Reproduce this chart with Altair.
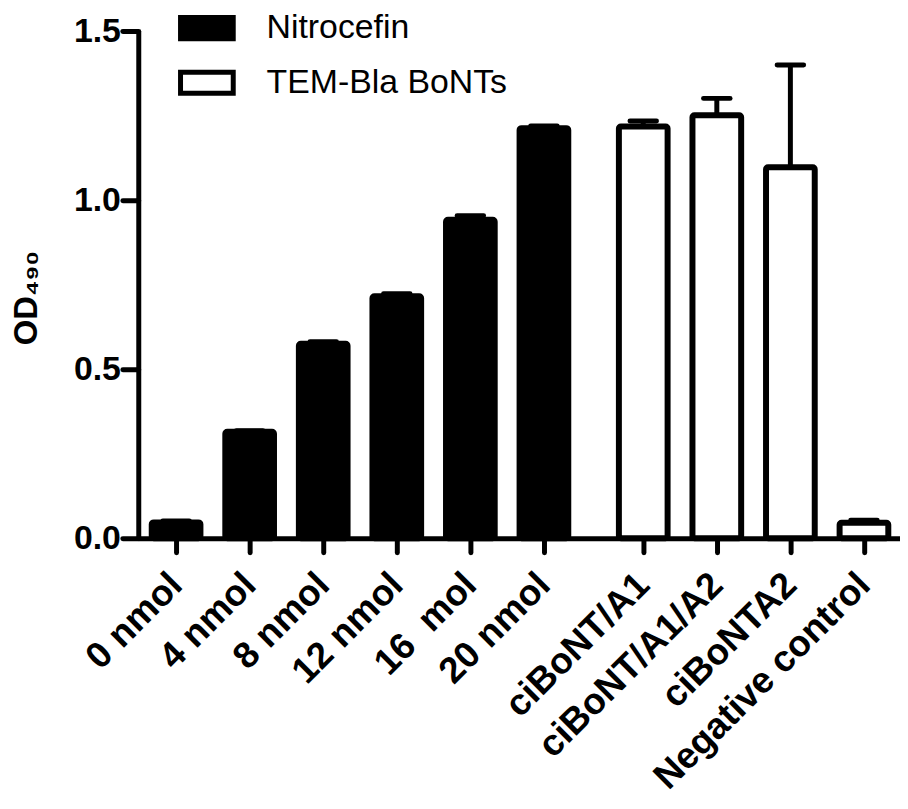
import json
import altair as alt
import pandas as pd

categories = ["0 nmol", "4 nmol", "8 nmol", "12 nmol", "16\u00a0\u00a0mol", "20 nmol",
              "ciBoNT/A1", "ciBoNT/A1/A2", "ciBoNTA2", "Negative control"]
groups = ["Nitrocefin"] * 6 + ["TEM-Bla BoNTs"] * 4
values = [0.047, 0.315, 0.575, 0.716, 0.942, 1.213, 1.218, 1.251, 1.097, 0.046]
errors = [0.004, 0.003, 0.006, 0.007, 0.012, 0.006, 0.016, 0.050, 0.303, 0.007]
y_ticks = [0.0, 0.5, 1.0, 1.5]

GAP = 0.35          # extra spacing between the two groups (in category steps)
HALF_BAR = 0.331    # half bar width (in category steps)
HALF_CAP = 0.18     # half error-cap width
XMIN, XMAX = -0.514, 9.84
FONT = "Liberation Sans"

df = pd.DataFrame({"category": categories, "group": groups, "value": values,
                   "err": errors, "order": list(range(len(categories)))})

tick_pos = [i + (GAP if g == "TEM-Bla BoNTs" else 0) for i, g in enumerate(groups)]
label_expr = (f"{json.dumps(categories)}"
              f"[round(datum.value > 5.5 ? datum.value - {GAP} : datum.value)]")

base = (alt.Chart(df)
        .transform_calculate(pos=f"datum.order + (datum.group === 'TEM-Bla BoNTs' ? {GAP} : 0)")
        .transform_calculate(top="datum.value + datum.err")
        .transform_calculate(xl=f"datum.pos - {HALF_BAR}", xr=f"datum.pos + {HALF_BAR}")
        .transform_calculate(cl=f"datum.pos - {HALF_CAP}", cr=f"datum.pos + {HALF_CAP}"))

xscale = alt.Scale(domain=[XMIN, XMAX], nice=False, zero=False)
yscale = alt.Scale(domain=[0, 1.5], nice=False)

x_axis = alt.Axis(title=None, values=tick_pos, labelExpr=label_expr, labelAngle=-45,
                  labelAlign="right", labelBaseline="middle", labelFont=FONT,
                  labelFontSize=37, labelFontWeight="bold", labelColor="black",
                  labelPadding=27, tickSize=14, tickWidth=5, tickColor="black",
                  tickCap="round", domainWidth=5, domainColor="black", grid=False,
                  labelOverlap=False, labelBound=False, labelLimit=0, zindex=1)
y_axis = alt.Axis(title="OD\u2084\u2089\u2080", values=y_ticks, format=".1f",
                  labelFont=FONT, labelFontSize=34, labelFontWeight="bold",
                  labelColor="black", labelPadding=2, tickSize=16, tickWidth=5,
                  tickColor="black", tickCap="round", domainWidth=5,
                  domainColor="black", grid=False, titleFont=FONT, titleFontSize=33,
                  titleFontWeight="bold", titleColor="black", titlePadding=30,
                  titleY=268, zindex=1)

legend = alt.Legend(title=None, orient="none", legendX=40, legendY=-32,
                    symbolType="M-1,-0.4H1V0.4H-1Z", symbolSize=2809,
                    symbolStrokeColor="black", symbolStrokeWidth=5,
                    labelFont=FONT, labelFontSize=34, labelColor="black",
                    labelLimit=0, labelOffset=31, rowPadding=5, padding=0)

bars = base.mark_bar(stroke="black", strokeWidth=6, cornerRadius=2).encode(
    x=alt.X("xl:Q", scale=xscale, axis=x_axis),
    x2="xr:Q",
    y=alt.Y("value:Q", scale=yscale, axis=y_axis),
    y2=alt.datum(0),
    fill=alt.Fill("group:N", scale=alt.Scale(domain=["Nitrocefin", "TEM-Bla BoNTs"],
                                            range=["black", "white"]), legend=legend),
)

err_line = base.mark_rule(color="black", strokeWidth=5).encode(
    x=alt.X("pos:Q", scale=xscale, axis=x_axis),
    y=alt.Y("value:Q", scale=yscale, axis=y_axis),
    y2="top:Q",
)

err_cap = base.mark_rule(color="black", strokeWidth=5, strokeCap="round").encode(
    x=alt.X("cl:Q", scale=xscale, axis=x_axis),
    x2="cr:Q",
    y=alt.Y("top:Q", scale=yscale, axis=y_axis),
)

chart = (alt.layer(bars, err_line, err_cap)
         .properties(width=766, height=510, background="white",
                     autosize=alt.AutoSizeParams(type="none"),
                     padding={"left": 131, "top": 21, "right": 0, "bottom": 262})
         .configure_view(stroke="transparent", strokeWidth=0))

chart.save("out.html", embed_options={"renderer": "svg", "actions": False})
